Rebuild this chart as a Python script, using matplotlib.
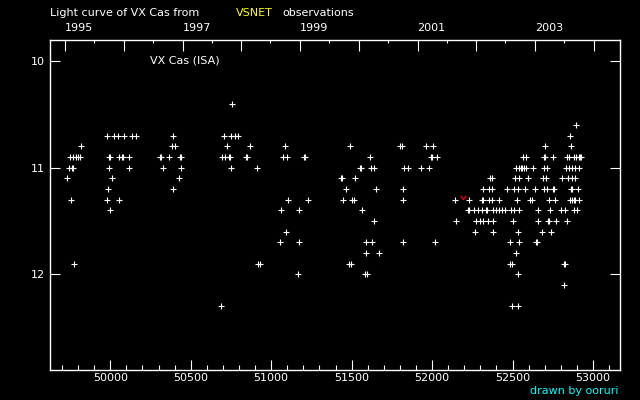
import matplotlib.pyplot as plt
from matplotlib.path import Path

# visual estimates (MJD, magnitude)
obs_1995_1998 = [
    (50758, 10.4),
    (49982, 10.7), (50025, 10.7), (50050, 10.7), (50087, 10.7), (50137, 10.7),
    (50162, 10.7), (50392, 10.7), (50708, 10.7), (50752, 10.7), (50778, 10.7),
    (50795, 10.7),
    (49821, 10.8), (50385, 10.8), (50404, 10.8), (50727, 10.8), (50869, 10.8),
    (51087, 10.8),
    (49750, 10.9), (49766, 10.9), (49787, 10.9), (49797, 10.9), (49814, 10.9),
    (49994, 10.9), (50000, 10.9), (50056, 10.9), (50072, 10.9), (50078, 10.9),
    (50118, 10.9), (50308, 10.9), (50314, 10.9), (50367, 10.9), (50434, 10.9),
    (50440, 10.9), (50696, 10.9), (50714, 10.9), (50736, 10.9), (50742, 10.9),
    (50842, 10.9), (50848, 10.9), (51074, 10.9), (51099, 10.9),
    (49743, 11.0), (49765, 11.0), (49770, 11.0), (49994, 11.0), (50118, 11.0),
    (50329, 11.0), (50441, 11.0), (50752, 11.0), (50913, 11.0),
    (49734, 11.1), (50013, 11.1), (50429, 11.1),
    (49988, 11.2), (50392, 11.2),
    (49758, 11.3), (49982, 11.3), (50056, 11.3), (51105, 11.3),
    (50000, 11.4), (51062, 11.4),
    (51093, 11.6),
    (51056, 11.7),
    (49777, 11.9), (50919, 11.9), (50932, 11.9),
    (50688, 12.3),
]

obs_1999_2001 = [
    (51490, 10.8), (51801, 10.8), (51813, 10.8), (51962, 10.8),
    (51205, 10.9), (51211, 10.9), (51615, 10.9),
    (51551, 11.0), (51557, 11.0), (51621, 11.0), (51639, 11.0), (51826, 11.0),
    (51850, 11.0), (51931, 11.0), (51982, 11.0),
    (51433, 11.1), (51439, 11.1), (51521, 11.1),
    (51466, 11.2), (51652, 11.2), (51819, 11.2),
    (51230, 11.3), (51447, 11.3), (51503, 11.3), (51515, 11.3), (51819, 11.3),
    (51174, 11.4), (51565, 11.4),
    (51639, 11.5),
    (51174, 11.7), (51590, 11.7), (51627, 11.7), (51819, 11.7),
    (51590, 11.8), (51671, 11.8),
    (51484, 11.9), (51497, 11.9),
    (51168, 12.0), (51584, 12.0), (51596, 12.0),
]

obs_2001_2004 = [
    (52893, 10.6),
    (52856, 10.7),
    (52006, 10.8), (52701, 10.8), (52862, 10.8),
    (51995, 10.9), (52001, 10.9), (52031, 10.9), (52564, 10.9), (52583, 10.9),
    (52698, 10.9), (52704, 10.9), (52751, 10.9), (52840, 10.9), (52852, 10.9),
    (52883, 10.9), (52895, 10.9), (52911, 10.9), (52917, 10.9), (52926, 10.9),
    (52521, 11.0), (52540, 11.0), (52555, 11.0), (52561, 11.0), (52570, 11.0),
    (52583, 11.0), (52626, 11.0), (52695, 11.0), (52713, 11.0), (52831, 11.0),
    (52850, 11.0), (52868, 11.0), (52887, 11.0), (52914, 11.0),
    (52360, 11.1), (52372, 11.1), (52515, 11.1), (52540, 11.1), (52595, 11.1),
    (52688, 11.1), (52707, 11.1), (52806, 11.1), (52844, 11.1), (52868, 11.1),
    (52889, 11.1),
    (52316, 11.2), (52353, 11.2), (52372, 11.2), (52465, 11.2), (52508, 11.2),
    (52533, 11.2), (52577, 11.2), (52639, 11.2), (52695, 11.2), (52713, 11.2),
    (52751, 11.2), (52757, 11.2), (52862, 11.2), (52872, 11.2), (52908, 11.2),
    (52142, 11.3), (52229, 11.3), (52310, 11.3), (52316, 11.3), (52353, 11.3),
    (52372, 11.3), (52415, 11.3), (52527, 11.3), (52608, 11.3), (52620, 11.3),
    (52726, 11.3), (52763, 11.3), (52856, 11.3), (52868, 11.3), (52880, 11.3),
    (52889, 11.3), (52914, 11.3),
    (52223, 11.4), (52229, 11.4), (52260, 11.4), (52285, 11.4), (52310, 11.4),
    (52335, 11.4), (52341, 11.4), (52378, 11.4), (52397, 11.4), (52415, 11.4),
    (52434, 11.4), (52453, 11.4), (52490, 11.4), (52508, 11.4), (52540, 11.4),
    (52657, 11.4), (52732, 11.4), (52800, 11.4), (52825, 11.4), (52881, 11.4),
    (52900, 11.4),
    (52148, 11.5), (52273, 11.5), (52297, 11.5), (52316, 11.5), (52347, 11.5),
    (52378, 11.5), (52502, 11.5), (52657, 11.5), (52723, 11.5), (52729, 11.5),
    (52769, 11.5), (52837, 11.5),
    (52266, 11.6), (52378, 11.6), (52533, 11.6), (52682, 11.6), (52738, 11.6),
    (52018, 11.7), (52484, 11.7), (52540, 11.7), (52648, 11.7), (52654, 11.7),
    (52521, 11.8),
    (52484, 11.9), (52496, 11.9), (52818, 11.9), (52824, 11.9),
    (52533, 12.0),
    (52819, 12.1),
    (52496, 12.3), (52533, 12.3),
]

red_obs = [(52193, 11.28)]

# calendar ticks on top axis (MJD of Jan 1 and Jul 1)
years = [1995, 1996, 1997, 1998, 1999, 2000, 2001, 2002, 2003, 2004]
year_mjd = [49718, 50083, 50449, 50814, 51179, 51544, 51910, 52275, 52640, 53005]
midyear_mjd = [49899, 50265, 50630, 50995, 51360, 51726, 52091, 52456, 52821]
labelled_years = [1995, 1997, 1999, 2001, 2003]

mjd_ticks = [50000, 50500, 51000, 51500, 52000, 52500, 53000]
mag_ticks = [10, 11, 12]

fig = plt.figure(figsize=(6.4, 4), dpi=100, facecolor='black')
ax = fig.add_axes([50 / 640, 30 / 400, 570 / 640, 330 / 400])
ax.set_facecolor('black')
for s in ax.spines.values():
    s.set_color('white')
    s.set_linewidth(1)

all_obs = obs_1995_1998 + obs_1999_2001 + obs_2001_2004
x = [p[0] for p in all_obs]
y = [p[1] for p in all_obs]
ax.plot(x, y, '+', color='white', ms=3.8, mew=0.8)

vmark = Path([(-1, 1), (0, -0.4), (1, 1)], [Path.MOVETO, Path.LINETO, Path.LINETO])
ax.plot([p[0] for p in red_obs], [p[1] for p in red_obs], ls='none',
        marker=vmark, ms=4, mec='red', mfc='none', mew=0.9)

ax.set_xlim(49625.6, 53167.6)
ax.set_ylim(12.90, 9.80)

ax.set_xticks(mjd_ticks)
ax.set_xticks(range(49700, 53200, 100), minor=True)
ax.set_yticks(mag_ticks)
ax.set_yticklabels([str(m) for m in mag_ticks])
ax.tick_params(axis='x', which='major', direction='in', length=7.2, width=0.8,
               colors='white', labelsize=8, pad=2.5, top=False)
ax.tick_params(axis='x', which='minor', direction='in', length=3.6, width=0.8,
               colors='white', top=False)
ax.tick_params(axis='y', which='major', direction='in', length=7.2, width=0.8,
               colors='white', labelsize=8, pad=3.5, left=True, right=True)

top = ax.twiny()
top.set_xlim(ax.get_xlim())
top.set_xticks(year_mjd)
top.set_xticks(midyear_mjd, minor=True)
top.tick_params(axis='x', which='major', direction='in', length=8, width=0.8,
                colors='white', labeltop=False)
top.tick_params(axis='x', which='minor', direction='in', length=2.2, width=0.8,
                colors='white')
for s in top.spines.values():
    s.set_visible(False)

trans = ax.get_xaxis_transform()
for yr, m in zip(years, year_mjd):
    if yr in labelled_years:
        ax.text(m, 1 + 12.3 / 330, str(yr), transform=trans, color='white',
                fontsize=8, ha='left', va='center')

fig.text(50 / 640, 1 - 12.7 / 400, 'Light curve of VX Cas from', color='white',
         fontsize=8, va='center')
fig.text(236 / 640, 1 - 12.7 / 400, 'VSNET', color='yellow', fontsize=8, va='center')
fig.text(282 / 640, 1 - 12.7 / 400, 'observations', color='white', fontsize=8,
         va='center')
fig.text(150 / 640, 1 - 60.7 / 400, 'VX Cas (ISA)', color='white', fontsize=8,
         va='center')
fig.text(618 / 640, 1 - 390.7 / 400, 'drawn by ooruri', color='cyan', fontsize=8,
         ha='right', va='center')

fig.savefig('out.png', dpi=100, facecolor='black')
